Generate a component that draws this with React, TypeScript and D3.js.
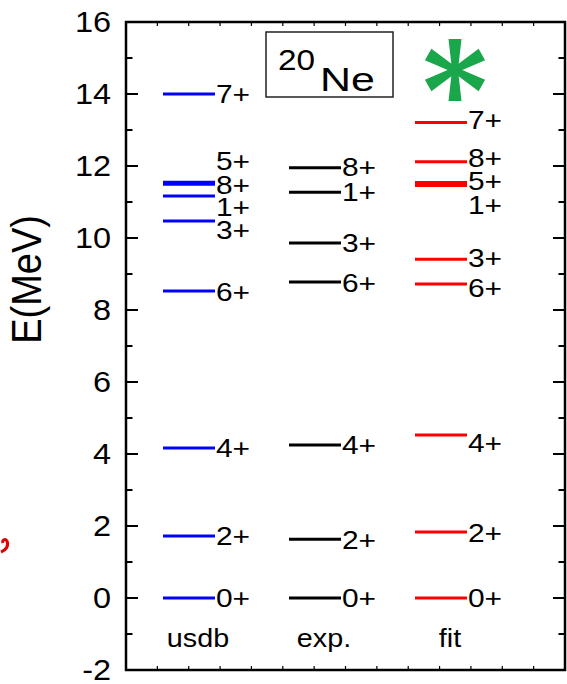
import React from 'react';
import * as d3 from 'd3';

// level schemes of 20Ne, energies in MeV
const models = ['usdb', 'exp.', 'fit'];
const modelColors = ['#0000ff', '#000000', '#ff0000'];

const usdbSpins = ['0+', '2+', '4+', '6+', '3+', '1+', '8+', '5+', '7+'];
const usdbE = [0, 1.72, 4.17, 8.53, 10.47, 11.17, 11.49, 11.55, 14.0];
const usdbLabelE = [0, 1.72, 4.17, 8.5, 10.22, 10.86, 11.47, 12.14, 14.0];

const expSpins = ['0+', '2+', '4+', '6+', '3+', '1+', '8+'];
const expE = [0, 1.63, 4.25, 8.78, 9.86, 11.27, 11.95];
const expLabelE = [0, 1.6, 4.25, 8.75, 9.86, 11.27, 11.97];

const fitSpins = ['0+', '2+', '4+', '6+', '3+', '1+', '5+', '8+', '7+'];
const fitE = [0, 1.83, 4.53, 8.72, 9.41, 11.46, 11.54, 12.12, 13.21];
const fitLabelE = [0, 1.8, 4.3, 8.61, 9.44, 10.92, 11.58, 12.22, 13.28];

const yTicks = [-2, 0, 2, 4, 6, 8, 10, 12, 14, 16];

const W = 567;
const H = 684;
const frame = { left: 126, right: 565, top: 22, bottom: 670 };
const FONT = 'Liberation Sans, Arial, Helvetica, sans-serif';
const SX = 1.15; // the original text looks a bit stretched horizontally

function SText({ x, y, size, anchor = 'start', baseline = 'auto', sx = SX, children }: any) {
  return (
    <text
      transform={`translate(${x},${y}) scale(${sx},1)`}
      fontSize={size}
      fontFamily={FONT}
      textAnchor={anchor}
      dominantBaseline={baseline}
      fill="#000"
    >
      {children}
    </text>
  );
}

export default function App() {
  const y = d3.scaleLinear().domain([-2, 16]).range([frame.bottom, frame.top]);
  const xFrame = d3.scaleLinear().domain([0, 14]).range([frame.left, frame.right]);
  const xLevel = d3.scalePoint<string>().domain(models).range([163, 415]);
  const lineLen = 52;

  const groups = [
    { spins: usdbSpins, e: usdbE, le: usdbLabelE },
    { spins: expSpins, e: expE, le: expLabelE },
    { spins: fitSpins, e: fitE, le: fitLabelE },
  ];

  // minor ticks on every MeV, major on even values
  const yMinor = d3.range(-1, 16, 1);
  const xMinor = d3.range(1, 14, 1);

  // asterisk arms
  const star = { cx: 455, cy: 70, r: 31 };
  const arms = d3.range(6).map(i => {
    const a = (i * 60 - 90) * Math.PI / 180;
    const n = a + Math.PI / 2;
    const inner = 3, outer = 6.5;
    const tip = star.r;
    const p = [
      [star.cx + Math.cos(n) * inner, star.cy + Math.sin(n) * inner],
      [star.cx + Math.cos(a) * tip + Math.cos(n) * outer, star.cy + Math.sin(a) * tip + Math.sin(n) * outer],
      [star.cx + Math.cos(a) * tip - Math.cos(n) * outer, star.cy + Math.sin(a) * tip - Math.sin(n) * outer],
      [star.cx - Math.cos(n) * inner, star.cy - Math.sin(n) * inner],
    ];
    return p.map(q => q.join(',')).join(' ');
  });

  return (
    <svg width={W} height={H} style={{ position: 'absolute', left: 0, top: 0, background: '#fff' }}>
      <rect x={0} y={0} width={W} height={H} fill="#fff" />

      {/* ticks on the frame, all inward */}
      {yMinor.map(v => {
        const len = v % 2 === 0 ? 12 : 6.5;
        return (
          <g key={'yt' + v} stroke="#000" strokeWidth={2}>
            <line x1={frame.left} x2={frame.left + len} y1={y(v)} y2={y(v)} />
            <line x1={frame.right} x2={frame.right - len} y1={y(v)} y2={y(v)} />
          </g>
        );
      })}
      {xMinor.map(v => (
        <g key={'xt' + v} stroke="#000" strokeWidth={1.2}>
          <line x1={xFrame(v)} x2={xFrame(v)} y1={frame.top} y2={frame.top + 4} />
          <line x1={xFrame(v)} x2={xFrame(v)} y1={frame.bottom} y2={frame.bottom - 4} />
        </g>
      ))}

      <rect
        x={frame.left}
        y={frame.top}
        width={frame.right - frame.left}
        height={frame.bottom - frame.top}
        fill="none"
        stroke="#000"
        strokeWidth={2.5}
      />

      {/* y tick labels */}
      {yTicks.map(v => (
        <SText key={'yl' + v} x={111} y={y(v)} size={29} anchor="end" baseline="central" sx={1.12}>
          {v}
        </SText>
      ))}

      <text
        transform={`translate(41,${y(8.85)}) rotate(-90) scale(1,1.12)`}
        fontSize={38}
        fontFamily={FONT}
        textAnchor="middle"
      >
        E(MeV)
      </text>

      {/* level lines and spin labels */}
      {groups.map((g, gi) => {
        const x0 = xLevel(models[gi]) as number;
        return (
          <g key={models[gi]}>
            {g.e.map((e, i) => (
              <line
                key={'l' + i}
                x1={x0}
                x2={x0 + lineLen}
                y1={y(e)}
                y2={y(e)}
                stroke={modelColors[gi]}
                strokeWidth={3}
              />
            ))}
            {g.spins.map((s, i) => (
              <SText key={'s' + i} x={x0 + lineLen + 1} y={y(g.le[i])} size={26} baseline="central">
                {s}
              </SText>
            ))}
            <SText x={x0 + 35} y={647} size={25} anchor="middle">
              {models[gi]}
            </SText>
          </g>
        );
      })}

      {/* nucleus label */}
      <rect x={266} y={32} width={127} height={65} fill="#fff" stroke="#222" strokeWidth={1.5} />
      <SText x={278} y={70} size={29} sx={1.15}>20</SText>
      <SText x={320} y={91} size={33} sx={1.3}>Ne</SText>

      {/* green asterisk */}
      <g fill="#1aa64a">
        {arms.map((p, i) => <polygon key={i} points={p} />)}
        <circle cx={star.cx} cy={star.cy} r={4} />
      </g>

      {/* stray red mark at the left edge */}
      <path d="M 1 552 C 6 550, 9 546, 7 541 C 5 538, 2 540, 3 543" fill="none" stroke="#e00000" strokeWidth={3} />
    </svg>
  );
}
